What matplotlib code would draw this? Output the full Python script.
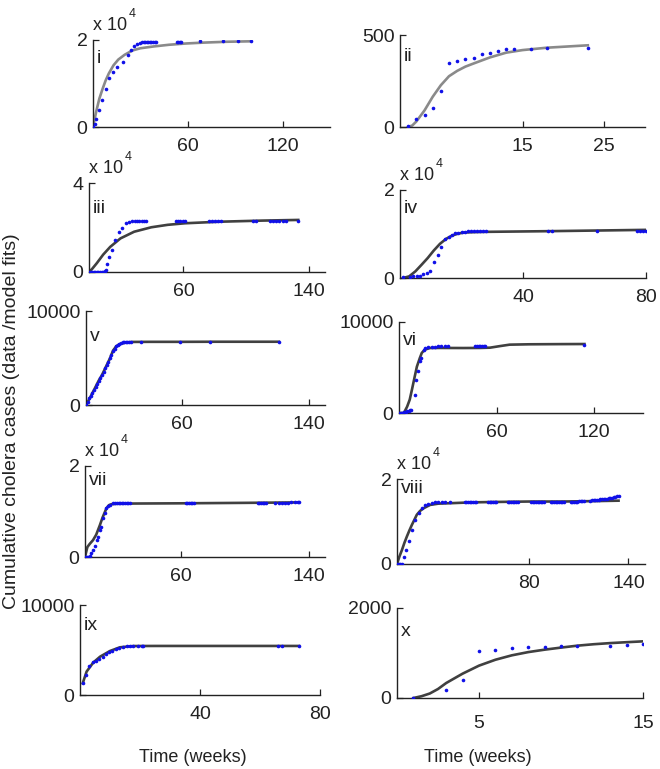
"""
Cumulative cholera cases, data vs model fits, ten panels
"""

import matplotlib
matplotlib.use("Agg")
from matplotlib import pyplot as plt

plt.rcParams['font.family'] = ['Liberation Sans', 'DejaVu Sans']

W, H = 660, 769

# ---- panel i
t_i_obs = [0, 1, 2, 4, 6, 8, 10, 12.5, 15.5, 19, 22, 24, 26, 28, 29.5, 31, 32, 33, 34, 35,
           36, 37, 38, 39, 40, 53, 54, 55, 56, 68, 82, 91.5, 100]
y_i_obs = [0, 600, 1900, 3800, 6200, 8800, 11200, 12700, 13800, 15000, 16500, 17800, 18700, 19100,
           19400, 19500, 19500, 19550, 19550, 19550, 19600, 19600, 19600, 19600, 19600, 19600,
           19600, 19600, 19600, 19700, 19700, 19700, 19700]
t_i_fit = [0, 2, 4, 6, 8, 10, 13, 16, 20, 25, 30, 38, 48, 59, 70, 85, 100]
y_i_fit = [0, 3500, 6500, 8700, 10700, 12300, 14200, 15500, 16600, 17600, 18100, 18500, 18900,
           19200, 19400, 19600, 19700]

# ---- panel ii
t_ii_obs = [1, 2, 3, 4, 5, 6, 7, 8, 9, 10, 11, 12, 13, 14, 16, 18, 23]
y_ii_obs = [5, 45, 64, 105, 196, 349, 358, 367, 376, 395, 404, 415, 422, 424, 425, 429, 431]
t_ii_fit = [1, 1.5, 2, 3, 4, 5, 6, 7, 8, 9, 11, 13, 15, 18, 23]
y_ii_fit = [0, 8, 30, 90, 164, 227, 276, 305, 328, 345, 378, 404, 418, 431, 444]

# ---- panel iii
t_iii_obs = [0, 1, 2, 3, 4, 5, 6, 7, 8, 9, 10, 10.5, 11.5, 12.4, 14.6, 16.7, 18.9, 21, 23.3, 25.4,
             27.6, 29, 30.5, 32, 33.5, 35, 36.3, 55, 56.5, 58, 59.5, 61, 76, 78, 80, 82, 84,
             104, 106, 115, 117, 119, 121, 123, 125, 133]
y_iii_obs = [0, 0, 0, 0, 0, 0, 0, 0, 0, 100, 300, 1000, 3500, 6800, 9800, 14300, 18100, 20000,
             21900, 22600, 22900, 22900, 22900, 22900, 22900, 22900, 22900, 22900, 22900, 22900,
             22900, 22900, 22900, 22900, 22900, 22900, 22900, 22900, 22900, 22900, 22900, 22900,
             22900, 22900, 22900, 23000]
t_iii_fit = [0, 2, 5, 9, 13.5, 20, 28.7, 39.6, 50, 61, 83, 110, 133]
y_iii_fit = [0, 1400, 4000, 7800, 11300, 15100, 18100, 20100, 21200, 21900, 22600, 23100, 23400]

# ---- panel iv
t_iv_obs = [1.1, 3.3, 4.3, 5.4, 6.5, 7.6, 8.7, 9.8, 11.2, 12.2, 13.4, 14.7, 15.8, 16.8, 18, 19,
            20, 21, 22, 23, 24, 25, 26, 27, 28, 48, 49.5, 64, 77, 78, 79, 80]
y_iv_obs = [150, 230, 380, 380, 530, 830, 1130, 1660, 3550, 5280, 7020, 8830, 9430, 9810, 10190,
            10340, 10420, 10500, 10570, 10570, 10570, 10570, 10570, 10570, 10570, 10570, 10570,
            10640, 10570, 10570, 10570, 10570]
t_iv_fit = [1, 3, 5, 7, 9, 11, 13, 15, 17, 19, 21, 24, 28, 48, 80]
y_iv_fit = [0, 380, 1510, 3000, 4530, 6260, 7770, 8900, 9660, 10110, 10340, 10420, 10490, 10640,
            10940]

# ---- panel v
t_v_obs = [0, 1, 2, 3, 4, 5, 6, 7, 8, 9, 10, 11, 12, 13, 14, 15, 16, 17, 18, 19, 20, 21, 22, 23,
           24, 25, 26, 27, 28, 34.5, 59, 78, 121]
y_v_obs = [0, 300, 700, 950, 1300, 1600, 1950, 2250, 2600, 2900, 3200, 3550, 3900, 4250, 4600,
           4950, 5350, 5700, 6000, 6250, 6400, 6500, 6600, 6650, 6700, 6700, 6720, 6720, 6720,
           6720, 6720, 6720, 6720]
t_v_fit = [0, 2, 5, 8, 10, 13, 15, 17, 19, 21, 25, 29, 40, 60, 80, 100, 121]
y_v_fit = [0, 600, 1590, 2600, 3180, 4240, 4950, 5800, 6250, 6470, 6650, 6710, 6720, 6720, 6730,
           6730, 6730]

# ---- panel vi
t_vi_obs = [0, 1, 2, 3, 4, 5, 6, 7, 7.6, 9.7, 10.7, 11.7, 12.8, 13.8, 15.2, 16, 18, 20, 22, 24,
            26, 28, 30, 47, 48, 49, 50, 51, 52, 53, 114]
y_vi_obs = [0, 0, 50, 100, 150, 200, 250, 300, 370, 2000, 3660, 4580, 5680, 6040, 6960, 7150,
            7200, 7250, 7300, 7320, 7350, 7380, 7400, 7350, 7350, 7350, 7380, 7380, 7400, 7400,
            7440]
t_vi_fit = [0, 3, 5, 6.6, 8, 9.7, 11, 12.8, 14, 15.8, 19, 25, 39.5, 50, 56, 62, 68, 80, 100, 114]
y_vi_fit = [0, 0, 700, 1470, 2600, 4030, 5100, 6040, 6600, 6960, 7140, 7150, 7140, 7150, 7180,
            7350, 7510, 7550, 7570, 7580]

# ---- panel vii
t_vii_obs = [0, 1, 2, 3, 4, 5, 6, 7.2, 8, 9.3, 10, 11.4, 12.4, 13.4, 14.5, 15.5, 17.6, 19, 20,
             21, 22, 23, 24, 25, 26, 27, 28, 63, 64, 65, 66, 67, 68, 108, 109, 110, 111, 112,
             113, 119, 121, 123, 125, 127, 129, 131, 133, 134]
y_vii_obs = [0, 0, 0, 300, 800, 1500, 2500, 3700, 4400, 5900, 6500, 8500, 9600, 10700, 11100,
             11400, 11800, 11800, 11800, 11800, 11800, 11800, 11800, 11800, 11800, 11800, 11800,
             11800, 11800, 11800, 11800, 11800, 11800, 11850, 11850, 11850, 11850, 11850, 11850,
             11900, 11900, 11950, 11950, 11950, 12000, 12000, 12000, 12000]
t_vii_fit = [0, 1, 1.5, 3, 5, 7, 9.3, 11, 13.4, 15, 16.5, 20, 30, 60, 100, 133]
y_vii_fit = [0, 1500, 2200, 2900, 3700, 4900, 7000, 8700, 10700, 11400, 11600, 11700, 11750,
             11800, 11900, 12000]

# ---- panel viii
t_viii_obs = [0, 1, 2, 3, 4, 5.7, 7.3, 9.1, 11.1, 13.1, 15.2, 17, 19, 21, 23, 25, 27, 29, 32,
              41, 42, 43, 44, 45, 46, 47, 48, 55, 56, 57, 58, 59, 60,
              67, 68, 69, 70, 71, 72, 73, 81, 82, 83, 84, 85, 86, 87, 88, 89,
              93, 94, 95, 96, 97, 98, 99, 100, 101, 105, 106, 107, 108, 109, 110, 111, 112, 113,
              117, 118, 119, 120, 121, 122, 123, 124, 125, 126, 127, 128, 129, 130, 131, 132,
              133, 134]
y_viii_obs = [0, 0, 0, 0, 1700, 3300, 5300, 8000, 10400, 12000, 13100, 13900, 14200, 14400,
              14500, 14600, 14600, 14600, 14600,
              14600, 14600, 14600, 14600, 14600, 14600, 14600, 14600,
              14600, 14600, 14600, 14600, 14600, 14600,
              14600, 14600, 14600, 14600, 14600, 14600, 14600,
              14600, 14600, 14600, 14600, 14600, 14600, 14600, 14600, 14600,
              14600, 14600, 14600, 14600, 14600, 14600, 14600, 14600, 14600,
              14650, 14650, 14700, 14700, 14700, 14750, 14750, 14800, 14850,
              14900, 14950, 15000, 15050, 15100, 15150, 15200, 15250, 15300, 15350, 15400,
              15450, 15500, 15600, 15700, 15800, 15900, 15980]
t_viii_fit = [0, 1.5, 3, 4.5, 6, 7.5, 9, 10.5, 12, 14, 16, 18, 20, 25, 32, 45, 60, 80, 100, 120,
              134]
y_viii_fit = [0, 1800, 3300, 5000, 6500, 7900, 9200, 10400, 11600, 12500, 13100, 13500, 13900,
              14200, 14300, 14500, 14600, 14700, 14700, 14800, 14900]

# ---- panel ix
t_ix_obs = [1.1, 2, 3.1, 4.2, 5.3, 6.4, 7.5, 8.6, 9.7, 10.8, 11.9, 13.1, 14.2, 15.5, 16.7, 17.8,
            19.4, 20.5, 21, 66, 67.2, 73]
y_ix_obs = [1370, 2220, 3220, 3670, 3800, 4000, 4260, 4560, 4740, 4930, 5110, 5260, 5370, 5440,
            5440, 5440, 5440, 5440, 5440, 5440, 5440, 5440]
t_ix_fit = [0.9, 2.2, 4.4, 6.7, 10, 13.3, 17.8, 25, 40, 60, 73]
y_ix_fit = [1300, 2600, 3600, 4260, 4890, 5300, 5440, 5450, 5450, 5450, 5450]

# ---- panel x
t_x_obs = [1, 3, 4, 5, 6, 7, 8, 9, 10, 11, 13, 14, 15]
y_x_obs = [0, 185, 407, 1037, 1074, 1111, 1126, 1133, 1148, 1148, 1163, 1185, 1200]
t_x_fit = [1, 1.5, 2, 2.5, 3, 4, 5, 6, 7, 8, 9, 10, 11, 12, 13, 14, 15]
y_x_fit = [0, 40, 100, 200, 333, 541, 719, 850, 948, 1020, 1074, 1120, 1163, 1195, 1220, 1240,
           1259]

labels = ['i', 'ii', 'iii', 'iv', 'v', 'vi', 'vii', 'viii', 'ix', 'x']
xlims = [150, 30, 150, 80, 150, 150, 150, 150, 80, 15]
xticks = [[60, 120], [15, 25], [60, 140], [40, 80], [60, 140], [60, 120], [60, 140], [80, 140],
          [40, 80], [5, 15]]
ytops = [20000, 500, 40000, 20000, 10000, 10000, 20000, 20000, 10000, 2000]
ytoplabels = ['2', '500', '4', '2', '10000', '10000', '2', '2', '10000', '2000']
has_exp = [True, False, True, True, False, False, True, True, False, False]
obs = [(t_i_obs, y_i_obs), (t_ii_obs, y_ii_obs), (t_iii_obs, y_iii_obs), (t_iv_obs, y_iv_obs),
       (t_v_obs, y_v_obs), (t_vi_obs, y_vi_obs), (t_vii_obs, y_vii_obs),
       (t_viii_obs, y_viii_obs), (t_ix_obs, y_ix_obs), (t_x_obs, y_x_obs)]
fits = [(t_i_fit, y_i_fit), (t_ii_fit, y_ii_fit), (t_iii_fit, y_iii_fit), (t_iv_fit, y_iv_fit),
        (t_v_fit, y_v_fit), (t_vi_fit, y_vi_fit), (t_vii_fit, y_vii_fit),
        (t_viii_fit, y_viii_fit), (t_ix_fit, y_ix_fit), (t_x_fit, y_x_fit)]

# axes boxes in pixels: x0, y_top, x1, y_bottom
boxes = [(93, 40, 330, 127), (400, 35, 645, 127), (89, 183, 325, 272), (400, 190, 646, 278),
         (86, 311, 325, 405), (399, 322, 643, 413), (85, 466, 325, 557), (397, 479, 645, 564),
         (80, 605, 320, 695), (397, 608, 643, 698)]
label_drop = [10, 13, 17, 10, 17, 10, 6, 1, 12, 15]
xpad = [8, 8, 8, 8, 8, 8, 8, 8, 8, 12]
fit_colors = ['#8a8a8a', '#8a8a8a'] + ['#404040'] * 8

PT = 72 / 100  # points per pixel at dpi 100
FS = 14

fig = plt.figure(figsize=(W / 100, H / 100), dpi=100)

for k in range(10):
    x0, y0, x1, y1 = boxes[k]
    ax = fig.add_axes([x0 / W, 1 - y1 / H, (x1 - x0) / W, (y1 - y0) / H])
    ax.plot(fits[k][0], fits[k][1], color=fit_colors[k], lw=1.9, zorder=2)
    ax.plot(obs[k][0], obs[k][1], 'o', ms=2.6, mfc='#1010e8', mec='none', zorder=3)
    ax.set_xlim(0, xlims[k])
    ax.set_ylim(0, ytops[k])
    ax.set_xticks(xticks[k])
    ax.set_xticklabels([str(v) for v in xticks[k]])
    ax.set_yticks([0, ytops[k]])
    ax.set_yticklabels(['0', ytoplabels[k]])
    for s in ['top', 'right']:
        ax.spines[s].set_visible(False)
    for s in ['left', 'bottom']:
        ax.spines[s].set_linewidth(1.0)
        ax.spines[s].set_color('#222222')
    ax.tick_params(direction='in', length=4, width=0.9, labelsize=FS, colors='#222222')
    ax.tick_params(axis='x', pad=xpad[k])
    ax.tick_params(axis='y', pad=4)
    ax.patch.set_alpha(0)

    ax.annotate(labels[k], xy=(0, 1), xycoords='axes fraction',
                xytext=(4 * PT, -label_drop[k] * PT), textcoords='offset points',
                ha='left', va='top', fontsize=FS, color='#222222')
    if has_exp[k]:
        ax.annotate('x 10', xy=(0, 1), xycoords='axes fraction',
                    xytext=(0, 10 * PT), textcoords='offset points',
                    ha='left', va='baseline', fontsize=13, color='#222222')
        ax.annotate('4', xy=(0, 1), xycoords='axes fraction',
                    xytext=(36 * PT, 23 * PT), textcoords='offset points',
                    ha='left', va='baseline', fontsize=9, color='#222222')

fig.text(12 / W, 1 - 421 / H, 'Cumulative cholera cases (data /model fits)', rotation=90,
         ha='center', va='center', fontsize=14, color='#222222')
fig.text(193 / W, 1 - 757 / H, 'Time (weeks)', ha='center', va='center', fontsize=13,
         color='#222222')
fig.text(478 / W, 1 - 757 / H, 'Time (weeks)', ha='center', va='center', fontsize=13,
         color='#222222')

fig.savefig('out.png', dpi=100)
